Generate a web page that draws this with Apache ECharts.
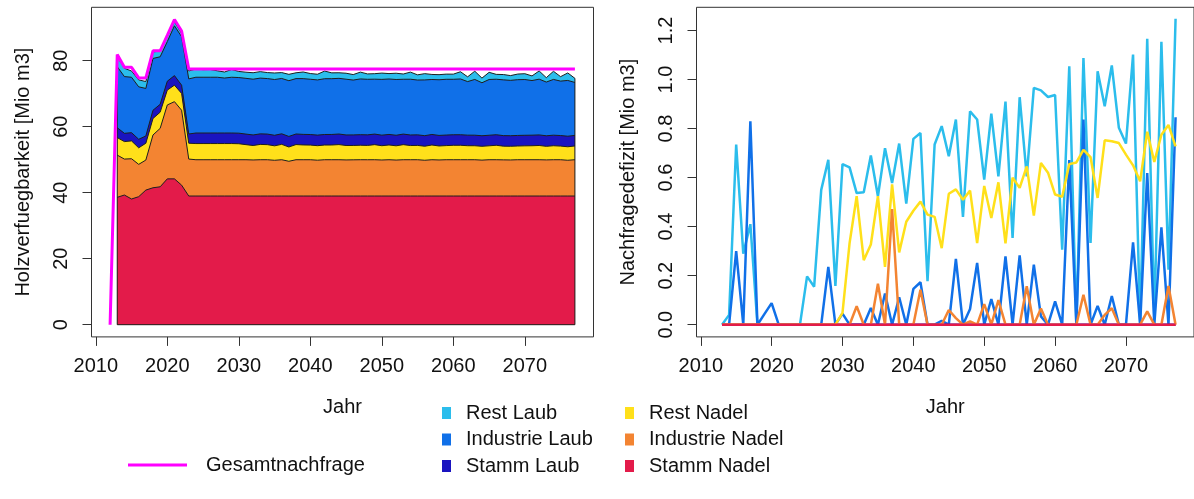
<!DOCTYPE html>
<html>
<head>
<meta charset="utf-8">
<title>Holzverfuegbarkeit und Nachfragedefizit</title>
<script src="https://cdn.jsdelivr.net/npm/echarts@6/dist/echarts.min.js"></script>
<style>
  html, body { margin: 0; padding: 0; background: #fff; }
  #chart { width: 1194px; height: 499px; }
</style>
</head>
<body>
<div id="chart"></div>
<script>
// Simulation years of the scenario (2013 - 2077) and demand years (2012 - 2077)
const years = Array.from({ length: 65 }, (_, i) => 2013 + i);
const demandYears = Array.from({ length: 66 }, (_, i) => 2012 + i);

const seriesColors = {
  'Rest Laub': '#2bbdec',
  'Industrie Laub': '#1070e8',
  'Stamm Laub': '#1a14c0',
  'Rest Nadel': '#ffe01a',
  'Industrie Nadel': '#f38432',
  'Stamm Nadel': '#e31b4a'
};

// Available wood per assortment [Mio m3], 2013 - 2077
const availStammNadel = [
  38.6, 39.3, 38.1, 38.8, 40.8, 41.5, 41.8,
  44.2, 44.2, 42.3, 39.0, 39.0, 39.0, 39.0, 39.0, 39.0, 39.0,
  39.0, 39.0, 39.0, 39.0, 39.0, 39.0, 39.0, 39.0, 39.0, 39.0,
  39.0, 39.0, 39.0, 39.0, 39.0, 39.0, 39.0, 39.0, 39.0, 39.0,
  39.0, 39.0, 39.0, 39.0, 39.0, 39.0, 39.0, 39.0, 39.0, 39.0,
  39.0, 39.0, 39.0, 39.0, 39.0, 39.0, 39.0, 39.0, 39.0, 39.0,
  39.0, 39.0, 39.0, 39.0, 39.0, 39.0, 39.0, 39.0
];
const availIndustrieNadel = [
  12.8, 10.9, 12.2, 9.8, 9.1, 16.0, 17.7,
  22.4, 23.4, 22.7, 11.2, 11.0, 11.0, 11.0, 11.0, 11.0, 11.0,
  11.0, 11.0, 10.93, 11.0, 11.0, 10.83, 11.0, 10.53, 11.0, 11.0,
  11.0, 10.86, 11.0, 11.0, 11.0, 10.94, 10.97, 11.0, 10.99, 11.0,
  10.92, 11.0, 10.9, 11.0, 11.0, 11.0, 10.84, 11.0, 10.93, 11.0,
  11.0, 11.0, 11.0, 11.0, 10.88, 11.0, 11.0, 10.96, 10.93, 11.0,
  11.0, 11.0, 11.0, 10.95, 11.0, 11.0, 10.84, 11.0
];
const availRestNadel = [
  5.3, 5.3, 5.4, 5.0, 5.1, 5.0, 4.9,
  4.5, 5.0, 5.1, 4.8, 4.9, 4.9, 4.9, 4.9, 4.9, 4.9,
  4.85, 4.57, 4.38, 4.64, 4.57, 4.38, 4.66, 4.33, 4.6, 4.48,
  4.44, 4.4, 4.45, 4.46, 4.59, 4.37, 4.35, 4.39, 4.35, 4.57,
  4.33, 4.47, 4.32, 4.57, 4.3, 4.34, 4.25, 4.46, 4.24, 4.28,
  4.37, 4.38, 4.25, 4.24, 4.19, 4.22, 4.38, 4.15, 4.15, 4.16,
  4.21, 4.24, 4.32, 4.11, 4.24, 4.13, 4.09, 4.17
];
const availStammLaub = [
  3.0, 2.5, 2.5, 2.6, 2.2, 2.5, 2.4,
  2.7, 2.9, 2.5, 2.8, 3.2, 3.2, 3.2, 3.2, 3.2, 3.2,
  3.2, 3.2, 3.2, 3.2, 3.2, 3.2, 3.2, 3.2, 3.2, 3.2,
  3.2, 3.2, 3.2, 3.2, 3.2, 3.2, 3.2, 3.2, 3.2, 3.2,
  3.2, 3.2, 3.2, 3.2, 3.2, 3.2, 3.2, 3.2, 3.2, 3.2,
  3.2, 3.2, 3.2, 3.2, 3.2, 3.2, 3.2, 3.2, 3.2, 3.2,
  3.2, 3.2, 3.2, 3.2, 3.2, 3.2, 3.2, 3.2
];
const availIndustrieLaub = [
  18.5, 17.2, 16.8, 15.9, 14.4, 15.7, 14.4,
  12.0, 15.1, 14.7, 16.7, 16.9, 16.9, 16.9, 16.9, 16.66, 16.9,
  16.86, 16.9, 16.9, 16.9, 16.83, 16.9, 16.77, 16.9, 16.79, 16.9,
  16.75, 16.73, 16.9, 16.9, 16.88, 16.9, 16.63, 16.9, 16.84, 16.65,
  16.9, 16.8, 16.9, 16.62, 16.9, 16.62, 16.9, 16.66, 16.87, 16.9,
  16.81, 16.9, 16.23, 16.9, 16.06, 16.9, 16.82, 16.9, 16.78, 16.9,
  16.9, 16.56, 16.9, 16.28, 16.9, 16.5, 16.9, 16.05
];
const availRestLaub = [
  3.1, 2.5, 1.9, 2.1, 2.1, 2.0, 1.7,
  1.5, 1.2, 1.0, 2.4, 2.5, 2.3, 2.35, 1.95, 1.83, 2.34,
  1.85, 1.86, 1.96, 1.96, 1.81, 1.98, 1.78, 1.92, 1.76, 2.01,
  1.74, 1.72, 2.32, 1.77, 1.69, 1.81, 1.66, 2.06, 1.63, 1.66,
  1.91, 1.64, 1.90, 1.59, 2.15, 1.57, 1.90, 1.53, 1.54, 1.57,
  1.56, 2.19, 1.45, 2.50, 1.41, 2.17, 1.47, 1.61, 1.44, 1.70,
  1.76, 1.40, 2.49, 1.33, 2.47, 1.35, 2.28, 1.25
];

// Total demand [Mio m3], 2012 - 2077
const gesamtnachfrage = [
  0, 81.9, 78.0, 78.0, 74.8, 74.8, 83.0, 83.0,
  87.7, 92.5, 89.0, 77.5, 77.5, 77.5, 77.5, 77.5, 77.5, 77.5,
  77.5, 77.5, 77.5, 77.5, 77.5, 77.5, 77.5, 77.5, 77.5, 77.5,
  77.5, 77.5, 77.5, 77.5, 77.5, 77.5, 77.5, 77.5, 77.5, 77.5,
  77.5, 77.5, 77.5, 77.5, 77.5, 77.5, 77.5, 77.5, 77.5, 77.5,
  77.5, 77.5, 77.5, 77.5, 77.5, 77.5, 77.5, 77.5, 77.5, 77.5,
  77.5, 77.5, 77.5, 77.5, 77.5, 77.5, 77.5, 77.5
];

// Demand deficit per assortment [Mio m3], 2013 - 2077
const defRestLaub = [
  0, 0.04, 0.735, 0.29, 0.41, 0, 0,
  0, 0, 0, 0, 0, 0.197, 0.155, 0.55, 0.673, 0.158,
  0.655, 0.642, 0.537, 0.54, 0.69, 0.524, 0.72, 0.578, 0.739, 0.494,
  0.758, 0.782, 0.177, 0.735, 0.81, 0.687, 0.837, 0.44, 0.87, 0.837,
  0.592, 0.861, 0.605, 0.91, 0.354, 0.928, 0.605, 0.966, 0.956, 0.929,
  0.937, 0.306, 1.054, 0.0, 1.088, 0.333, 1.034, 0.891, 1.058, 0.803,
  0.739, 1.102, 0.01, 1.166, 0.03, 1.154, 0.224, 1.248
];
const defIndustrieLaub = [
  0, 0, 0.30, 0, 0.83, 0, 0.044,
  0.088, 0, 0, 0, 0, 0, 0, 0, 0.236, 0,
  0.045, 0, 0, 0, 0.068, 0, 0.127, 0, 0.112, 0,
  0.146, 0.173, 0, 0, 0.016, 0, 0.268, 0, 0.064, 0.252,
  0, 0.104, 0, 0.279, 0, 0.283, 0, 0.245, 0.034, 0,
  0.095, 0, 0.672, 0, 0.837, 0, 0.077, 0, 0.117, 0,
  0, 0.336, 0, 0.619, 0, 0.397, 0, 0.846
];
const defStammLaub = [
  0, 0, 0, 0, 0, 0, 0,
  0, 0, 0, 0, 0, 0, 0, 0, 0, 0,
  0, 0, 0, 0, 0, 0, 0, 0, 0, 0,
  0, 0, 0, 0, 0, 0, 0, 0, 0, 0,
  0, 0, 0, 0, 0, 0, 0, 0, 0, 0,
  0, 0, 0, 0, 0, 0, 0, 0, 0, 0,
  0, 0, 0, 0, 0, 0, 0, 0
];
const defRestNadel = [
  0, 0, 0, 0, 0, 0, 0,
  0, 0, 0, 0, 0, 0, 0, 0, 0, 0,
  0.048, 0.333, 0.524, 0.263, 0.327, 0.524, 0.236, 0.572, 0.295, 0.42,
  0.465, 0.502, 0.449, 0.44, 0.312, 0.534, 0.552, 0.51, 0.547, 0.333,
  0.566, 0.435, 0.581, 0.332, 0.6, 0.558, 0.646, 0.445, 0.66, 0.62,
  0.531, 0.522, 0.655, 0.662, 0.713, 0.684, 0.517, 0.752, 0.748, 0.741,
  0.694, 0.65, 0.585, 0.787, 0.664, 0.775, 0.815, 0.727
];
const defIndustrieNadel = [
  0, 0, 0, 0, 0, 0, 0,
  0, 0, 0, 0, 0, 0, 0, 0, 0, 0,
  0, 0, 0.075, 0, 0, 0.167, 0, 0.472, 0, 0,
  0, 0.143, 0, 0, 0, 0.06, 0.027, 0, 0.013, 0,
  0.084, 0, 0.10, 0, 0, 0, 0.157, 0, 0.066, 0,
  0, 0, 0, 0, 0.122, 0, 0, 0.04, 0.067, 0,
  0, 0, 0, 0.054, 0, 0, 0.158, 0
];
const defStammNadel = [
  0, 0, 0, 0, 0, 0, 0,
  0, 0, 0, 0, 0, 0, 0, 0, 0, 0,
  0, 0, 0, 0, 0, 0, 0, 0, 0, 0,
  0, 0, 0, 0, 0, 0, 0, 0, 0, 0,
  0, 0, 0, 0, 0, 0, 0, 0, 0, 0,
  0, 0, 0, 0, 0, 0, 0, 0, 0, 0,
  0, 0, 0, 0, 0, 0, 0, 0
];

// Axis tick labels
const yearTicks = [2010, 2020, 2030, 2040, 2050, 2060, 2070];
const availTicks = [0, 20, 40, 60, 80];
const deficitTicks = [0, 0.2, 0.4, 0.6, 0.8, 1.0, 1.2];

// ---------------------------------------------------------------------------
const FONT = '"Liberation Sans", Arial, Helvetica, sans-serif';
const TEXT = '#111';
const FS = 20;
const EDGE = '#1e1e1e';

const pairs = (xs, vs) => xs.map((x, i) => [x, vs[i]]);

// stacked layers from bottom to top
const availLayers = [
  ['Stamm Nadel', availStammNadel],
  ['Industrie Nadel', availIndustrieNadel],
  ['Rest Nadel', availRestNadel],
  ['Stamm Laub', availStammLaub],
  ['Industrie Laub', availIndustrieLaub],
  ['Rest Laub', availRestLaub]
];
const deficitLines = [
  ['Rest Laub', defRestLaub],
  ['Industrie Laub', defIndustrieLaub],
  ['Stamm Laub', defStammLaub],
  ['Rest Nadel', defRestNadel],
  ['Industrie Nadel', defIndustrieNadel],
  ['Stamm Nadel', defStammNadel]
];

// cumulative upper edge of every layer (polygon filled down to zero)
const cumulative = [];
availLayers.forEach(([name, vals], k) => {
  const prev = k ? cumulative[k - 1].top : null;
  cumulative.push({ name, top: vals.map((v, i) => (prev ? prev[i] : 0) + v) });
});
const last = years.length - 1;
const total = cumulative[cumulative.length - 1].top;
// outer polygon edges of the stacked block (vertical sides and base line)
const outline = [
  [years[0], total[0]], [years[0], 0],
  [years[last], 0], [years[last], total[last]]
];

function xAxisCfg(gridIndex) {
  return {
    type: 'value', gridIndex, min: 2009.4, max: 2079.6,
    splitLine: { show: false },
    axisLine: { show: false, onZero: false },
    axisTick: { show: true, length: 9, lineStyle: { color: '#333', width: 1 }, customValues: yearTicks },
    axisLabel: { customValues: yearTicks, fontSize: FS, color: TEXT, fontFamily: FONT, margin: 20,
                 formatter: v => String(v) },
    name: 'Jahr', nameLocation: 'middle', nameGap: 61,
    nameTextStyle: { fontSize: FS, color: TEXT, fontFamily: FONT }
  };
}
function yAxisCfg(gridIndex, min, max, ticks, fmt, name) {
  return {
    type: 'value', gridIndex, min, max,
    splitLine: { show: false },
    axisLine: { show: false, onZero: false },
    axisTick: { show: true, length: 9, lineStyle: { color: '#333', width: 1 }, customValues: ticks },
    axisLabel: { customValues: ticks, rotate: 90, fontSize: FS, color: TEXT, fontFamily: FONT, margin: 20,
                 formatter: fmt },
    name, nameLocation: 'middle', nameRotate: 90, nameGap: 58,
    nameTextStyle: { fontSize: FS, color: TEXT, fontFamily: FONT }
  };
}

const series = [];
// top layer first, each lower polygon painted over it
cumulative.slice().reverse().forEach(({ name, top }) => {
  series.push({
    type: 'line', name, xAxisIndex: 0, yAxisIndex: 0,
    data: pairs(years, top), symbol: 'none', showSymbol: false,
    lineStyle: { color: EDGE, width: 1 },
    itemStyle: { color: seriesColors[name] },
    areaStyle: { color: seriesColors[name], opacity: 1, origin: 'auto' },
    z: 2, silent: true
  });
});
series.push({
  type: 'line', name: 'rand', xAxisIndex: 0, yAxisIndex: 0,
  data: outline, symbol: 'none', showSymbol: false,
  lineStyle: { color: EDGE, width: 1 }, z: 3, silent: true
});
series.push({
  type: 'line', name: 'Gesamtnachfrage', xAxisIndex: 0, yAxisIndex: 0,
  data: pairs(demandYears, gesamtnachfrage), symbol: 'none', showSymbol: false,
  lineStyle: { color: '#ff00ff', width: 3 }, itemStyle: { color: '#ff00ff' },
  z: 4, silent: true
});
deficitLines.forEach(([name, vals]) => {
  series.push({
    type: 'line', name, xAxisIndex: 1, yAxisIndex: 1,
    data: pairs(years, vals), symbol: 'none', showSymbol: false,
    lineStyle: { color: seriesColors[name], width: 2.5 },
    itemStyle: { color: seriesColors[name] },
    z: 2, silent: true
  });
});

const legendText = { fontSize: FS, color: TEXT, fontFamily: FONT, lineHeight: 20 };

const option = {
  animation: false,
  backgroundColor: '#fff',
  grid: [
    { left: 91.5, top: 7.3, width: 502, height: 329.6, show: true, borderColor: '#333', borderWidth: 1 },
    { left: 696.5, top: 7.3, width: 505, height: 329.6, show: true, borderColor: '#333', borderWidth: 1 }
  ],
  xAxis: [xAxisCfg(0), xAxisCfg(1)],
  yAxis: [
    yAxisCfg(0, -3.7, 96.2, availTicks, v => String(v), 'Holzverfuegbarkeit [Mio m3]'),
    yAxisCfg(1, -0.0498, 1.2948, deficitTicks, v => v.toFixed(1), 'Nachfragedefizit [Mio m3]')
  ],
  legend: [
    {
      orient: 'vertical', left: 442, top: 403, padding: 0, itemGap: 6.5,
      itemWidth: 9, itemHeight: 12, icon: 'rect', selectedMode: false,
      itemStyle: { borderWidth: 0 },
      textStyle: Object.assign({ padding: [0, 0, 0, 10] }, legendText),
      data: ['Rest Laub', 'Industrie Laub', 'Stamm Laub']
    },
    {
      orient: 'vertical', left: 625, top: 403, padding: 0, itemGap: 6.5,
      itemWidth: 9, itemHeight: 12, icon: 'rect', selectedMode: false,
      itemStyle: { borderWidth: 0 },
      textStyle: Object.assign({ padding: [0, 0, 0, 10] }, legendText),
      data: ['Rest Nadel', 'Industrie Nadel', 'Stamm Nadel']
    },
    {
      orient: 'vertical', left: 128, top: 455, padding: 0,
      itemWidth: 59, itemHeight: 3, icon: 'rect', selectedMode: false,
      itemStyle: { borderWidth: 0 },
      textStyle: Object.assign({ padding: [0, 0, 0, 14] }, legendText),
      data: ['Gesamtnachfrage']
    }
  ],
  series
};

const chart = echarts.init(document.getElementById('chart'), null, { renderer: 'canvas' });
chart.setOption(option);
</script>
</body>
</html>
